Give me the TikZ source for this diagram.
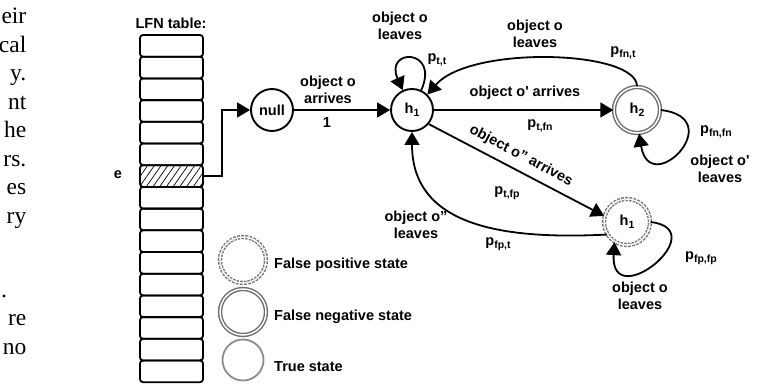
\documentclass[tikz,border=0pt]{standalone}
\usepackage{fontspec}
\setmainfont{Liberation Sans}
\newfontfamily\bodyserif{Liberation Serif}
\usetikzlibrary{arrows.meta,patterns.meta}

% lowered, smaller index for state names and probabilities
\newcommand\lsub[1]{\raisebox{-0.45ex}{\fontsize{10.5}{10.5}\selectfont #1}}

\begin{document}
\begin{tikzpicture}[x=1pt,y=-1pt,
  lab/.style={font=\bfseries\fontsize{14.5}{16.5}\selectfont, align=center, inner sep=0pt},
  state/.style={circle, draw, line width=1.9pt, minimum size=42pt, inner sep=0pt,
    font=\bfseries\fontsize{14.5}{16}\selectfont},
  fnstate/.style={circle, draw=black!58, line width=1.4pt, double=white, double distance=1.5pt,
    minimum size=46pt, inner sep=0pt, font=\bfseries\fontsize{14.5}{16}\selectfont},
  fpstate/.style={fnstate, draw=black!55, dash pattern=on 2.6pt off 1.3pt},
  truestate/.style={circle, draw=black!45, line width=1.8pt, minimum size=41pt, inner sep=0pt},
  arr/.style={line width=1.8pt, -{Triangle[length=13pt,width=15pt]}},
  cell/.style={draw, line width=1.8pt, rounded corners=3pt, minimum width=63pt,
    minimum height=21.7pt, inner sep=0pt},
  hatch/.style={pattern={Lines[angle=55,distance=5.5pt,line width=0.7pt]}},
  body/.style={font=\bodyserif\fontsize{23.5}{28}\selectfont, inner sep=0pt}
]
\useasboundingbox (0,0) rectangle (766,386);

% running text of the page, cut at the left margin
\node[body, anchor=base east] at (26.5,23.3)  {eir};
\node[body, anchor=base east] at (26.5,52)    {cal};
\node[body, anchor=base east] at (26.5,80.5)  {y.};
\node[body, anchor=base east] at (26.5,109)   {nt};
\node[body, anchor=base east] at (26.5,137.5) {he};
\node[body, anchor=base east] at (26.5,166)   {rs.};
\node[body, anchor=base east] at (26.5,194.5) {es};
\node[body, anchor=base east] at (26.5,223)   {ry};
\node[body, anchor=base west] at (1,297)      {.};
\node[body, anchor=base east] at (26.5,325.5) {re};
\node[body, anchor=base east] at (26.5,354)   {no};

% LFN table
\node[lab] (title) at (171,23) {LFN table:};
\foreach \i in {1,...,16}{
  \pgfmathsetmacro\yy{35+(\i-0.5)*21.7}
  \ifnum\i=7
    \node[cell, hatch] (row\i) at (171.5,\yy) {};
  \else
    \node[cell] (row\i) at (171.5,\yy) {};
  \fi
}
\node[lab] (elab) at (118,175) {e};

% states
\node[state] (null) at (272,110) {null};
\node[state] (h1) at (412,110) {h\lsub{1}};
\node[fnstate] (h2) at (637,110) {h\lsub{2}};
\node[fpstate] (fp) at (627,222) {h\lsub{1}};

% transitions
\draw[arr] (row7.east) -- ++(19,0) |- (null.west);
\draw[arr] (null.east) -- (h1.west);
\draw[arr] (h1.65) .. controls (440,48) and (384,48) .. (h1.115);
\draw[arr] (h1.east) -- (h2.west);
\draw[arr] (h2.north) .. controls (637,50) and (470,45) .. (h1.45);
\draw[arr] (h2.east) .. controls (730,118) and (650,200) .. (h2.-85);
\draw[arr] (h1.-40) -- (fp.165);
\draw[arr] (fp.212) .. controls (500,240) and (412,225) .. (h1.south);
\draw[arr] (fp.east) .. controls (715,230) and (610,315) .. (fp.-122);

% transition labels
\node[lab] (l1) at (328,90) {object o\\arrives};
\node[lab] (l1p) at (327,123) {1};
\node[lab] (l2) at (400,26) {object o\\leaves};
\node[lab] (l2p) at (437,60) {p\lsub{t,t}};
\node[lab] (l3) at (535,34) {object o\\leaves};
\node[lab] (l3p) at (623,53) {p\lsub{fn,t}};
\node[lab] (l4) at (525,93) {object o\textquotesingle\ arrives};
\node[lab] (l4p) at (540,126) {p\lsub{t,fn}};
\node[lab] (l5p) at (716,132) {p\lsub{fn,fn}};
\node[lab] (l5) at (720,169) {object o\textquotesingle\\leaves};
\node[lab, rotate=-27.8] (l6) at (521,156) {object o" arrives};
\node[lab] (l6p) at (507,193) {p\lsub{t,fp}};
\node[lab] (l7) at (416,225) {object o"\\leaves};
\node[lab] (l7p) at (498,244) {p\lsub{fp,t}};
\node[lab] (l8p) at (701,258) {p\lsub{fp,fp}};
\node[lab] (l8) at (640,296) {object o\\leaves};

% legend
\node[fpstate] (kfp) at (243,260) {};
\node[fnstate] (kfn) at (243,312) {};
\node[truestate] (ktrue) at (243,360) {};
\node[lab, anchor=west] (tfp) at (274,265) {False positive state};
\node[lab, anchor=west] (tfn) at (274,317) {False negative state};
\node[lab, anchor=west] (ttrue) at (274,367) {True state};
\end{tikzpicture}
\end{document}
